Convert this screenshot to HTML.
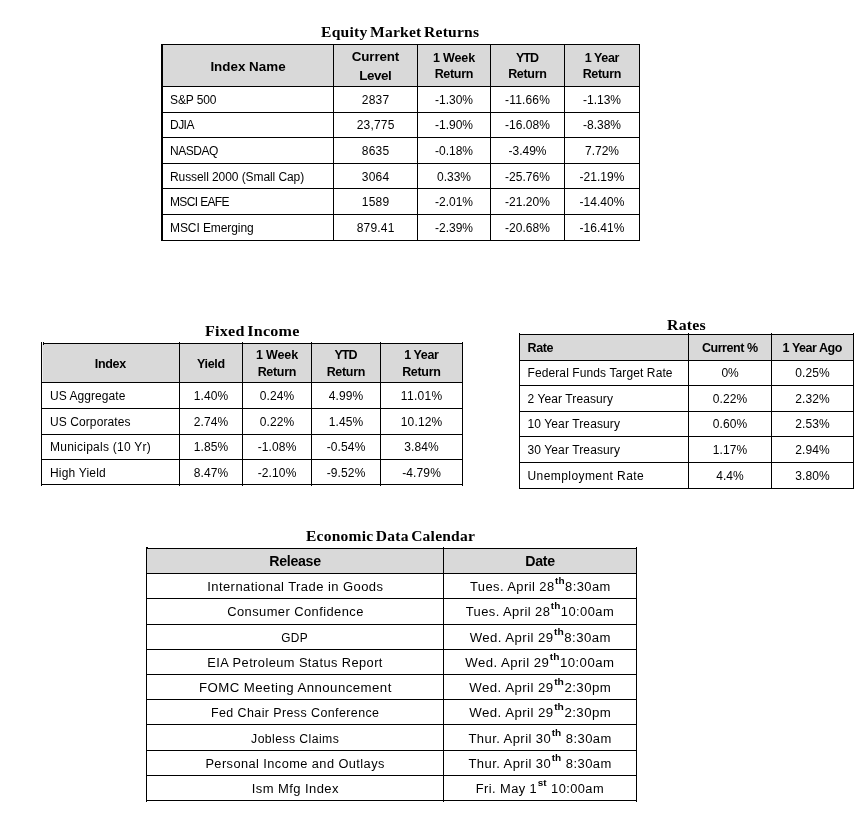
<!DOCTYPE html>
<html lang="en">
<head>
<meta charset="utf-8">
<title>Market Returns</title>
<style>
html,body{margin:0;padding:0;background:#fff;}
body{width:865px;height:823px;position:relative;overflow:hidden;font-family:"Liberation Sans", sans-serif;color:#000;}
.r{position:absolute;}
.t{position:absolute;white-space:nowrap;overflow:visible;height:16px;line-height:16px;}
.b{font-size:12px;}
.hb{font-size:13.4px;font-weight:bold;}
.hs{font-size:12.5px;font-weight:bold;}
.ha{font-size:14.2px;font-weight:bold;letter-spacing:-0.3px;}
.e{font-size:12.0px;letter-spacing:0.4px;}
.e span{display:inline-block;transform-origin:50% 50%;}
.e sup{font-size:9.3px;font-weight:bold;vertical-align:baseline;position:relative;top:-7px;letter-spacing:0;line-height:0;margin:0 0.5px;}
.ti{font-family:"Liberation Serif", serif;font-weight:bold;font-size:14.45px;letter-spacing:0.2px;word-spacing:-1.5px;}
.ti span{display:inline-block;transform-origin:0 50%;}
</style>
</head>
<body>
<div class="t ti" style="left:321px;top:24px;"><span style="transform:scaleX(1.0815)">Equity Market Returns</span></div>
<div class="t ti" style="left:204.6px;top:323px;"><span style="transform:scaleX(1.1166)">Fixed Income</span></div>
<div class="t ti" style="left:667px;top:317px;"><span style="transform:scaleX(1.0991)">Rates</span></div>
<div class="t ti" style="left:306.2px;top:528px;"><span style="transform:scaleX(1.0771)">Economic Data Calendar</span></div>
<div class="r" style="left:163px;top:45px;width:476px;height:41px;background:#d9d9d9"></div>
<div class="r" style="left:161px;top:44px;width:479px;height:1px;background:#000"></div>
<div class="r" style="left:161px;top:86px;width:479px;height:1px;background:#000"></div>
<div class="r" style="left:161px;top:112px;width:479px;height:1px;background:#000"></div>
<div class="r" style="left:161px;top:137px;width:479px;height:1px;background:#000"></div>
<div class="r" style="left:161px;top:163px;width:479px;height:1px;background:#000"></div>
<div class="r" style="left:161px;top:188px;width:479px;height:1px;background:#000"></div>
<div class="r" style="left:161px;top:214px;width:479px;height:1px;background:#000"></div>
<div class="r" style="left:161px;top:240px;width:479px;height:1px;background:#000"></div>
<div class="r" style="left:161px;top:44px;width:2px;height:197px;background:#000"></div>
<div class="r" style="left:333px;top:44px;width:1px;height:197px;background:#000"></div>
<div class="r" style="left:417px;top:44px;width:1px;height:197px;background:#000"></div>
<div class="r" style="left:490px;top:44px;width:1px;height:197px;background:#000"></div>
<div class="r" style="left:564px;top:44px;width:1px;height:197px;background:#000"></div>
<div class="r" style="left:639px;top:44px;width:1px;height:197px;background:#000"></div>
<div class="t hb" style="left:163px;top:59px;width:170px;text-align:center;letter-spacing:0.005px;text-indent:0.005px;">Index Name</div>
<div class="t hb" style="left:334px;top:49px;width:83px;text-align:center;letter-spacing:-0.129px;text-indent:-0.129px;">Current</div>
<div class="t hb" style="left:334px;top:68px;width:83px;text-align:center;letter-spacing:-0.406px;text-indent:-0.406px;">Level</div>
<div class="t hs" style="left:418px;top:50px;width:72px;text-align:center;letter-spacing:-0.133px;text-indent:-0.133px;">1 Week</div>
<div class="t hs" style="left:418px;top:66px;width:72px;text-align:center;letter-spacing:-0.315px;text-indent:-0.315px;">Return</div>
<div class="t hs" style="left:491px;top:50px;width:73px;text-align:center;letter-spacing:-0.87px;text-indent:-0.87px;">YTD</div>
<div class="t hs" style="left:491px;top:66px;width:73px;text-align:center;letter-spacing:-0.315px;text-indent:-0.315px;">Return</div>
<div class="t hs" style="left:565px;top:50px;width:74px;text-align:center;letter-spacing:-0.375px;text-indent:-0.375px;">1 Year</div>
<div class="t hs" style="left:565px;top:66px;width:74px;text-align:center;letter-spacing:-0.315px;text-indent:-0.315px;">Return</div>
<div class="t b" style="left:170px;top:92px;width:163px;text-align:left;letter-spacing:-0.116px;">S&amp;P 500</div>
<div class="t b" style="left:334px;top:92px;width:83px;text-align:center;letter-spacing:0.223px;text-indent:0.223px;">2837</div>
<div class="t b" style="left:418px;top:92px;width:72px;text-align:center;">-1.30%</div>
<div class="t b" style="left:491px;top:92px;width:73px;text-align:center;letter-spacing:0.158px;text-indent:0.158px;">-11.66%</div>
<div class="t b" style="left:565px;top:92px;width:74px;text-align:center;">-1.13%</div>
<div class="t b" style="left:170px;top:117px;width:163px;text-align:left;letter-spacing:-0.535px;">DJIA</div>
<div class="t b" style="left:334px;top:117px;width:83px;text-align:center;letter-spacing:0.198px;text-indent:0.198px;">23,775</div>
<div class="t b" style="left:418px;top:117px;width:72px;text-align:center;">-1.90%</div>
<div class="t b" style="left:491px;top:117px;width:73px;text-align:center;letter-spacing:0.031px;text-indent:0.031px;">-16.08%</div>
<div class="t b" style="left:565px;top:117px;width:74px;text-align:center;">-8.38%</div>
<div class="t b" style="left:170px;top:143px;width:163px;text-align:left;letter-spacing:-0.453px;">NASDAQ</div>
<div class="t b" style="left:334px;top:143px;width:83px;text-align:center;letter-spacing:0.223px;text-indent:0.223px;">8635</div>
<div class="t b" style="left:418px;top:143px;width:72px;text-align:center;">-0.18%</div>
<div class="t b" style="left:491px;top:143px;width:73px;text-align:center;">-3.49%</div>
<div class="t b" style="left:565px;top:143px;width:74px;text-align:center;letter-spacing:-0.034px;text-indent:-0.034px;">7.72%</div>
<div class="t b" style="left:170px;top:169px;width:163px;text-align:left;letter-spacing:-0.082px;">Russell 2000 (Small Cap)</div>
<div class="t b" style="left:334px;top:169px;width:83px;text-align:center;letter-spacing:0.223px;text-indent:0.223px;">3064</div>
<div class="t b" style="left:418px;top:169px;width:72px;text-align:center;letter-spacing:-0.034px;text-indent:-0.034px;">0.33%</div>
<div class="t b" style="left:491px;top:169px;width:73px;text-align:center;letter-spacing:0.031px;text-indent:0.031px;">-25.76%</div>
<div class="t b" style="left:565px;top:169px;width:74px;text-align:center;letter-spacing:0.031px;text-indent:0.031px;">-21.19%</div>
<div class="t b" style="left:170px;top:194px;width:163px;text-align:left;letter-spacing:-0.639px;">MSCI EAFE</div>
<div class="t b" style="left:334px;top:194px;width:83px;text-align:center;letter-spacing:0.223px;text-indent:0.223px;">1589</div>
<div class="t b" style="left:418px;top:194px;width:72px;text-align:center;">-2.01%</div>
<div class="t b" style="left:491px;top:194px;width:73px;text-align:center;letter-spacing:0.031px;text-indent:0.031px;">-21.20%</div>
<div class="t b" style="left:565px;top:194px;width:74px;text-align:center;letter-spacing:0.031px;text-indent:0.031px;">-14.40%</div>
<div class="t b" style="left:170px;top:220px;width:163px;text-align:left;letter-spacing:-0.085px;">MSCI Emerging</div>
<div class="t b" style="left:334px;top:220px;width:83px;text-align:center;letter-spacing:0.206px;text-indent:0.206px;">879.41</div>
<div class="t b" style="left:418px;top:220px;width:72px;text-align:center;">-2.39%</div>
<div class="t b" style="left:491px;top:220px;width:73px;text-align:center;letter-spacing:0.031px;text-indent:0.031px;">-20.68%</div>
<div class="t b" style="left:565px;top:220px;width:74px;text-align:center;letter-spacing:0.031px;text-indent:0.031px;">-16.41%</div>
<div class="r" style="left:42px;top:344px;width:1px;height:38px;background:#ececec"></div>
<div class="r" style="left:43px;top:344px;width:419px;height:38px;background:#d9d9d9"></div>
<div class="r" style="left:43px;top:343px;width:420px;height:1px;background:#000"></div>
<div class="r" style="left:41px;top:382px;width:422px;height:1px;background:#000"></div>
<div class="r" style="left:41px;top:408px;width:422px;height:1px;background:#000"></div>
<div class="r" style="left:41px;top:434px;width:422px;height:1px;background:#000"></div>
<div class="r" style="left:41px;top:459px;width:422px;height:1px;background:#000"></div>
<div class="r" style="left:41px;top:484px;width:422px;height:1px;background:#000"></div>
<div class="r" style="left:41px;top:342px;width:1px;height:144px;background:#000"></div>
<div class="r" style="left:179px;top:342px;width:1px;height:144px;background:#000"></div>
<div class="r" style="left:242px;top:342px;width:1px;height:144px;background:#000"></div>
<div class="r" style="left:311px;top:342px;width:1px;height:144px;background:#000"></div>
<div class="r" style="left:380px;top:342px;width:1px;height:144px;background:#000"></div>
<div class="r" style="left:462px;top:342px;width:1px;height:144px;background:#000"></div>
<div class="r" style="left:43px;top:342px;width:1px;height:3px;background:#000"></div>
<div class="t hs" style="left:42px;top:356px;width:137px;text-align:center;letter-spacing:-0.303px;text-indent:-0.303px;">Index</div>
<div class="t hs" style="left:180px;top:356px;width:62px;text-align:center;letter-spacing:-0.341px;text-indent:-0.341px;">Yield</div>
<div class="t hs" style="left:243px;top:347px;width:68px;text-align:center;letter-spacing:-0.133px;text-indent:-0.133px;">1 Week</div>
<div class="t hs" style="left:243px;top:364px;width:68px;text-align:center;letter-spacing:-0.315px;text-indent:-0.315px;">Return</div>
<div class="t hs" style="left:312px;top:347px;width:68px;text-align:center;letter-spacing:-0.87px;text-indent:-0.87px;">YTD</div>
<div class="t hs" style="left:312px;top:364px;width:68px;text-align:center;letter-spacing:-0.315px;text-indent:-0.315px;">Return</div>
<div class="t hs" style="left:381px;top:347px;width:81px;text-align:center;letter-spacing:-0.375px;text-indent:-0.375px;">1 Year</div>
<div class="t hs" style="left:381px;top:364px;width:81px;text-align:center;letter-spacing:-0.315px;text-indent:-0.315px;">Return</div>
<div class="t b" style="left:50px;top:388px;width:129px;text-align:left;letter-spacing:0.059px;">US Aggregate</div>
<div class="t b" style="left:180px;top:388px;width:62px;text-align:center;letter-spacing:0.101px;text-indent:0.101px;">1.40%</div>
<div class="t b" style="left:243px;top:388px;width:68px;text-align:center;letter-spacing:0.101px;text-indent:0.101px;">0.24%</div>
<div class="t b" style="left:312px;top:388px;width:68px;text-align:center;letter-spacing:0.101px;text-indent:0.101px;">4.99%</div>
<div class="t b" style="left:381px;top:388px;width:81px;text-align:center;letter-spacing:0.295px;text-indent:0.295px;">11.01%</div>
<div class="t b" style="left:50px;top:414px;width:129px;text-align:left;letter-spacing:0.088px;">US Corporates</div>
<div class="t b" style="left:180px;top:414px;width:62px;text-align:center;letter-spacing:0.101px;text-indent:0.101px;">2.74%</div>
<div class="t b" style="left:243px;top:414px;width:68px;text-align:center;letter-spacing:0.101px;text-indent:0.101px;">0.22%</div>
<div class="t b" style="left:312px;top:414px;width:68px;text-align:center;letter-spacing:0.101px;text-indent:0.101px;">1.45%</div>
<div class="t b" style="left:381px;top:414px;width:81px;text-align:center;letter-spacing:0.146px;text-indent:0.146px;">10.12%</div>
<div class="t b" style="left:50px;top:439px;width:129px;text-align:left;letter-spacing:0.251px;">Municipals (10 Yr)</div>
<div class="t b" style="left:180px;top:439px;width:62px;text-align:center;letter-spacing:0.101px;text-indent:0.101px;">1.85%</div>
<div class="t b" style="left:243px;top:439px;width:68px;text-align:center;letter-spacing:0.127px;text-indent:0.127px;">-1.08%</div>
<div class="t b" style="left:312px;top:439px;width:68px;text-align:center;letter-spacing:0.127px;text-indent:0.127px;">-0.54%</div>
<div class="t b" style="left:381px;top:439px;width:81px;text-align:center;letter-spacing:0.101px;text-indent:0.101px;">3.84%</div>
<div class="t b" style="left:50px;top:465px;width:129px;text-align:left;letter-spacing:0.188px;">High Yield</div>
<div class="t b" style="left:180px;top:465px;width:62px;text-align:center;letter-spacing:0.101px;text-indent:0.101px;">8.47%</div>
<div class="t b" style="left:243px;top:465px;width:68px;text-align:center;letter-spacing:0.127px;text-indent:0.127px;">-2.10%</div>
<div class="t b" style="left:312px;top:465px;width:68px;text-align:center;letter-spacing:0.127px;text-indent:0.127px;">-9.52%</div>
<div class="t b" style="left:381px;top:465px;width:81px;text-align:center;letter-spacing:0.127px;text-indent:0.127px;">-4.79%</div>
<div class="r" style="left:520px;top:335px;width:333px;height:25px;background:#d9d9d9"></div>
<div class="r" style="left:519px;top:334px;width:335px;height:1px;background:#000"></div>
<div class="r" style="left:519px;top:360px;width:335px;height:1px;background:#000"></div>
<div class="r" style="left:519px;top:385px;width:335px;height:1px;background:#000"></div>
<div class="r" style="left:519px;top:411px;width:335px;height:1px;background:#000"></div>
<div class="r" style="left:519px;top:436px;width:335px;height:1px;background:#000"></div>
<div class="r" style="left:519px;top:462px;width:335px;height:1px;background:#000"></div>
<div class="r" style="left:519px;top:488px;width:335px;height:1px;background:#000"></div>
<div class="r" style="left:519px;top:333px;width:1px;height:156px;background:#000"></div>
<div class="r" style="left:688px;top:333px;width:1px;height:156px;background:#000"></div>
<div class="r" style="left:771px;top:333px;width:1px;height:156px;background:#000"></div>
<div class="r" style="left:853px;top:333px;width:1px;height:156px;background:#000"></div>
<div class="t hs" style="left:527.5px;top:340px;width:160.5px;text-align:left;letter-spacing:-0.355px;">Rate</div>
<div class="t hs" style="left:689px;top:340px;width:82px;text-align:center;letter-spacing:-0.439px;text-indent:-0.439px;">Current %</div>
<div class="t hs" style="left:772px;top:340px;width:81px;text-align:center;letter-spacing:-0.461px;text-indent:-0.461px;">1 Year Ago</div>
<div class="t b" style="left:527.5px;top:365px;width:160.5px;text-align:left;letter-spacing:0.104px;">Federal Funds Target Rate</div>
<div class="t b" style="left:689px;top:365px;width:82px;text-align:center;letter-spacing:-0.185px;text-indent:-0.185px;">0%</div>
<div class="t b" style="left:772px;top:365px;width:81px;text-align:center;letter-spacing:0.101px;text-indent:0.101px;">0.25%</div>
<div class="t b" style="left:527.5px;top:391px;width:160.5px;text-align:left;letter-spacing:0.096px;">2 Year Treasury</div>
<div class="t b" style="left:689px;top:391px;width:82px;text-align:center;letter-spacing:0.101px;text-indent:0.101px;">0.22%</div>
<div class="t b" style="left:772px;top:391px;width:81px;text-align:center;letter-spacing:0.101px;text-indent:0.101px;">2.32%</div>
<div class="t b" style="left:527.5px;top:416px;width:160.5px;text-align:left;letter-spacing:0.113px;">10 Year Treasury</div>
<div class="t b" style="left:689px;top:416px;width:82px;text-align:center;letter-spacing:0.101px;text-indent:0.101px;">0.60%</div>
<div class="t b" style="left:772px;top:416px;width:81px;text-align:center;letter-spacing:0.101px;text-indent:0.101px;">2.53%</div>
<div class="t b" style="left:527.5px;top:442px;width:160.5px;text-align:left;letter-spacing:0.113px;">30 Year Treasury</div>
<div class="t b" style="left:689px;top:442px;width:82px;text-align:center;letter-spacing:0.101px;text-indent:0.101px;">1.17%</div>
<div class="t b" style="left:772px;top:442px;width:81px;text-align:center;letter-spacing:0.101px;text-indent:0.101px;">2.94%</div>
<div class="t b" style="left:527.5px;top:468px;width:160.5px;text-align:left;letter-spacing:0.426px;">Unemployment Rate</div>
<div class="t b" style="left:689px;top:468px;width:82px;text-align:center;letter-spacing:0.037px;text-indent:0.037px;">4.4%</div>
<div class="t b" style="left:772px;top:468px;width:81px;text-align:center;letter-spacing:0.101px;text-indent:0.101px;">3.80%</div>
<div class="r" style="left:147px;top:549px;width:489px;height:24px;background:#d9d9d9"></div>
<div class="r" style="left:146px;top:548px;width:491px;height:1px;background:#000"></div>
<div class="r" style="left:146px;top:573px;width:491px;height:1px;background:#000"></div>
<div class="r" style="left:146px;top:598px;width:491px;height:1px;background:#000"></div>
<div class="r" style="left:146px;top:624px;width:491px;height:1px;background:#000"></div>
<div class="r" style="left:146px;top:649px;width:491px;height:1px;background:#000"></div>
<div class="r" style="left:146px;top:674px;width:491px;height:1px;background:#000"></div>
<div class="r" style="left:146px;top:699px;width:491px;height:1px;background:#000"></div>
<div class="r" style="left:146px;top:724px;width:491px;height:1px;background:#000"></div>
<div class="r" style="left:146px;top:750px;width:491px;height:1px;background:#000"></div>
<div class="r" style="left:146px;top:775px;width:491px;height:1px;background:#000"></div>
<div class="r" style="left:146px;top:800px;width:491px;height:1px;background:#000"></div>
<div class="r" style="left:146px;top:547px;width:1px;height:255px;background:#000"></div>
<div class="r" style="left:443px;top:547px;width:1px;height:255px;background:#000"></div>
<div class="r" style="left:636px;top:547px;width:1px;height:255px;background:#000"></div>
<div class="r" style="left:146px;top:547px;width:2px;height:2px;background:#000"></div>
<div class="t ha" style="left:147px;top:553px;width:296px;text-align:center;">Release</div>
<div class="t ha" style="left:444px;top:553px;width:192px;text-align:center;">Date</div>
<div class="t e" style="left:147px;top:579px;width:296px;text-align:center;"><span style="transform:scaleX(1.0837)">International Trade in Goods</span></div>
<div class="t e" style="left:444px;top:579px;width:192px;text-align:center;"><span style="transform:scaleX(1.0761)">Tues. April 28<sup>th</sup>8:30am</span></div>
<div class="t e" style="left:147px;top:604px;width:296px;text-align:center;"><span style="transform:scaleX(1.0763)">Consumer Confidence</span></div>
<div class="t e" style="left:444px;top:604px;width:192px;text-align:center;"><span style="transform:scaleX(1.0774)">Tues. April 28<sup>th</sup>10:00am</span></div>
<div class="t e" style="left:147px;top:630px;width:296px;text-align:center;"><span style="transform:scaleX(0.9893)">GDP</span></div>
<div class="t e" style="left:444px;top:630px;width:192px;text-align:center;"><span style="transform:scaleX(1.0989)">Wed. April 29<sup>th</sup>8:30am</span></div>
<div class="t e" style="left:147px;top:655px;width:296px;text-align:center;"><span style="transform:scaleX(1.0688)">EIA Petroleum Status Report</span></div>
<div class="t e" style="left:444px;top:655px;width:192px;text-align:center;"><span style="transform:scaleX(1.0989)">Wed. April 29<sup>th</sup>10:00am</span></div>
<div class="t e" style="left:147px;top:680px;width:296px;text-align:center;"><span style="transform:scaleX(1.1033)">FOMC Meeting Announcement</span></div>
<div class="t e" style="left:444px;top:680px;width:192px;text-align:center;"><span style="transform:scaleX(1.1044)">Wed. April 29<sup>th</sup>2:30pm</span></div>
<div class="t e" style="left:147px;top:705px;width:296px;text-align:center;"><span style="transform:scaleX(1.0368)">Fed Chair Press Conference</span></div>
<div class="t e" style="left:444px;top:705px;width:192px;text-align:center;"><span style="transform:scaleX(1.1044)">Wed. April 29<sup>th</sup>2:30pm</span></div>
<div class="t e" style="left:147px;top:731px;width:296px;text-align:center;"><span style="transform:scaleX(1.0206)">Jobless Claims</span></div>
<div class="t e" style="left:444px;top:731px;width:192px;text-align:center;"><span style="transform:scaleX(1.084)">Thur. April 30<sup>th</sup> 8:30am</span></div>
<div class="t e" style="left:147px;top:756px;width:296px;text-align:center;"><span style="transform:scaleX(1.0665)">Personal Income and Outlays</span></div>
<div class="t e" style="left:444px;top:756px;width:192px;text-align:center;"><span style="transform:scaleX(1.084)">Thur. April 30<sup>th</sup> 8:30am</span></div>
<div class="t e" style="left:147px;top:781px;width:296px;text-align:center;"><span style="transform:scaleX(1.083)">Ism Mfg Index</span></div>
<div class="t e" style="left:444px;top:781px;width:192px;text-align:center;"><span style="transform:scaleX(1.0696)">Fri. May 1<sup>st</sup> 10:00am</span></div>
</body>
</html>
